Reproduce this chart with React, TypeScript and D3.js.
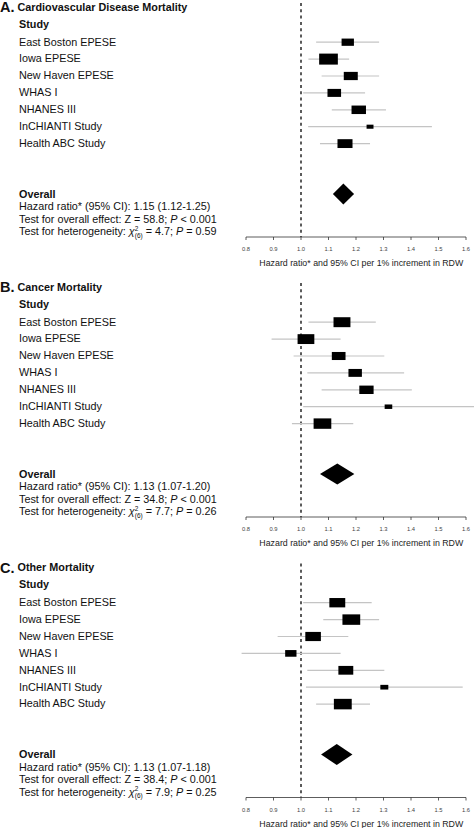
import React from "react";
import * as d3 from "d3";

const studies = [
  "East Boston EPESE",
  "Iowa EPESE",
  "New Haven EPESE",
  "WHAS I",
  "NHANES III",
  "InCHIANTI Study",
  "Health ABC Study",
];

const panelLetters = ["A.", "B.", "C."];
const panelTitles = ["Cardiovascular Disease Mortality", "Cancer Mortality", "Other Mortality"];

// Hazard ratios, lower / upper 95% CI, study weights
const hrA = [1.17, 1.1, 1.181, 1.121, 1.21, 1.251, 1.16];
const loA = [1.055, 1.027, 1.075, 1.008, 1.112, 1.026, 1.069];
const hiA = [1.284, 1.175, 1.284, 1.233, 1.309, 1.476, 1.251];
const wA = [10.8, 24.8, 13.9, 13.1, 14.8, 3.4, 16.0];

const hrB = [1.149, 1.018, 1.137, 1.197, 1.238, 1.318, 1.078];
const loB = [1.027, 0.893, 0.973, 1.023, 1.075, 1.008, 0.967];
const hiB = [1.272, 1.144, 1.303, 1.375, 1.403, 1.65, 1.19];
const wB = [20.3, 19.9, 13.3, 12.8, 14.5, 4.1, 22.2];

const hrC = [1.132, 1.183, 1.044, 0.963, 1.163, 1.303, 1.152];
const loC = [1.008, 1.081, 0.915, 0.784, 1.023, 1.018, 1.055];
const hiC = [1.257, 1.284, 1.172, 1.144, 1.303, 1.588, 1.251];
const wC = [17.9, 22.4, 17.2, 9.1, 15.7, 4.5, 22.6];

// Overall diamond (lower, estimate, upper) as drawn
const overallLo = [1.116, 1.069, 1.073];
const overallEst = [1.154, 1.132, 1.13];
const overallHi = [1.193, 1.194, 1.187];

const overallHR = ["1.15 (1.12-1.25)", "1.13 (1.07-1.20)", "1.13 (1.07-1.18)"];
const overallZ = ["58.8", "34.8", "38.4"];
const hetChi = ["4.7", "7.7", "7.9"];
const hetP = ["0.59", "0.26", "0.25"];

const tickValues = [0.8, 0.9, 1.0, 1.1, 1.2, 1.3, 1.4, 1.5, 1.6];
const axisTitle = "Hazard ratio* and 95% CI per 1% increment in RDW";

const W = 474;
const H = 828;
const FONT = "'Liberation Sans', Arial, Helvetica, sans-serif";
const FS = 10.8;

const x = d3.scaleLinear().domain([0.8, 1.6]).range([246, 466]);
const size = d3.scaleSqrt().domain([0, 30]).range([0, 12.1]);
const rowY = d3.scaleLinear().domain([0, 1]).range([41.7, 58.6]);

const panels = [
  { hr: hrA, lo: loA, hi: hiA, w: wA },
  { hr: hrB, lo: loB, hi: hiB, w: wB },
  { hr: hrC, lo: loC, hi: hiC, w: wC },
];
const panelOffsets = [0, 280, 560.5];

function Panel({ idx }: { idx: number }) {
  const p = panels[idx];
  const oy = panelOffsets[idx];
  const axisY = 237;
  const diamondY = 194;
  const dh = 10.5;
  const x1 = x(1.0);
  const diamond = d3.line()([
    [x(overallLo[idx]), diamondY],
    [x(overallEst[idx]), diamondY - dh],
    [x(overallHi[idx]), diamondY],
    [x(overallEst[idx]), diamondY + dh],
  ]) + "Z";
  return (
    <g transform={`translate(0,${oy})`}>
      {/* reference line */}
      <line x1={x1} x2={x1} y1={3} y2={axisY} stroke="#333" strokeWidth={1.6} strokeDasharray="3,3.3" />
      {/* titles */}
      <text x={0} y={7} dy="0.36em" fontFamily={FONT} fontSize={14.5} fontWeight="bold" fill="#111">
        {panelLetters[idx]}
      </text>
      <text x={17.5} y={7} dy="0.36em" fontFamily={FONT} fontSize={FS} fontWeight="bold" fill="#111">
        {panelTitles[idx]}
      </text>
      <text x={19} y={24} dy="0.36em" fontFamily={FONT} fontSize={FS} fontWeight="bold" fill="#111">
        Study
      </text>
      {studies.map((s, i) => {
        const cy = rowY(i);
        const h = size(p.w[i]);
        const bw = h * 1.7;
        return (
          <g key={s}>
            <text x={19} y={cy} dy="0.36em" fontFamily={FONT} fontSize={FS} fill="#111">
              {s}
            </text>
            <line x1={x(p.lo[i])} x2={x(p.hi[i])} y1={cy + 0.5} y2={cy + 0.5} stroke="#c4c4c4" strokeWidth={1.2} />
            <rect x={x(p.hr[i]) - bw / 2} y={cy + 0.5 - h / 2} width={bw} height={h} fill="#000" />
          </g>
        );
      })}
      {/* overall */}
      <path d={diamond} fill="#000" />
      <g fontFamily={FONT} fontSize={FS} fill="#111">
        <text x={19} y={diamondY} dy="0.36em" fontWeight="bold">Overall</text>
        <text x={19} y={diamondY + 12.5} dy="0.36em">
          {`Hazard ratio* (95% CI): ${overallHR[idx]}`}
        </text>
        <text x={19} y={diamondY + 25} dy="0.36em">
          {`Test for overall effect: Z = ${overallZ[idx]}; `}
          <tspan fontStyle="italic">P</tspan>
          {" < 0.001"}
        </text>
        <text x={19} y={diamondY + 37.5} dy="0.36em">
          {"Test for heterogeneity: "}
          <tspan fontStyle="italic">χ</tspan>
          <tspan fontSize={6.5} dy={-4.5}>2</tspan>
          <tspan fontSize={6.5} dx={-3.6} dy={7}>(6)</tspan>
          <tspan dy={-2.5}>{` = ${hetChi[idx]}; `}</tspan>
          <tspan fontStyle="italic">P</tspan>
          {` = ${hetP[idx]}`}
        </text>
      </g>
      {/* axis */}
      <line x1={x(0.8)} x2={x(1.6)} y1={axisY} y2={axisY} stroke="#333" strokeWidth={0.8} />
      {tickValues.map((t) => (
        <g key={t}>
          <line x1={x(t)} x2={x(t)} y1={axisY} y2={axisY + 3} stroke="#333" strokeWidth={0.8} />
          <text x={x(t)} y={249} dy="0.36em" textAnchor="middle" fontFamily={FONT} fontSize={5.8} fill="#444">
            {d3.format(".1f")(t)}
          </text>
        </g>
      ))}
      <text x={361.3} y={263} dy="0.36em" textAnchor="middle" fontFamily={FONT} fontSize={8.8} fill="#222">
        {axisTitle}
      </text>
    </g>
  );
}

export default function App() {
  return (
    <svg
      width={W}
      height={H}
      viewBox={`0 0 ${W} ${H}`}
      style={{ position: "absolute", left: 0, top: 0, background: "#fff" }}
    >
      <rect width={W} height={H} fill="#fff" />
      {[0, 1, 2].map((i) => (
        <Panel key={i} idx={i} />
      ))}
    </svg>
  );
}
